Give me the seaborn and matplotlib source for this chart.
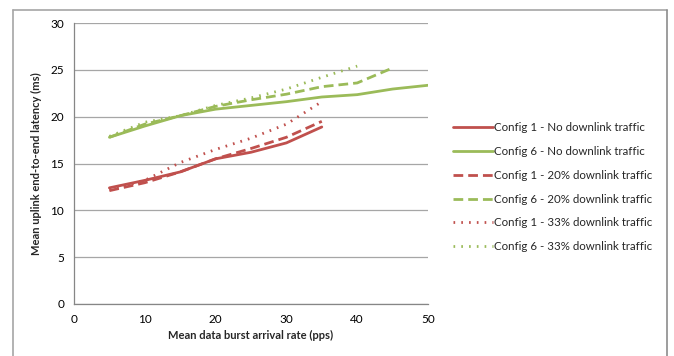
import matplotlib
matplotlib.use("Agg")
import matplotlib.pyplot as plt
from matplotlib.lines import Line2D
import seaborn as sns
import pandas as pd

sns.set_style("white")
plt.rcParams['font.family'] = ['Lato', 'DejaVu Sans']

rate_35 = [5, 10, 15, 20, 25, 30, 35]
rate_40 = [5, 10, 15, 20, 25, 30, 35, 40]
rate_45 = [5, 10, 15, 20, 25, 30, 35, 40, 45]
rate_50 = [5, 10, 15, 20, 25, 30, 35, 40, 45, 50]

c1_none = [12.4, 13.2, 14.1, 15.5, 16.2, 17.2, 18.9]
c6_none = [17.8, 19.0, 20.1, 20.8, 21.2, 21.6, 22.1, 22.35, 22.95, 23.35]
c1_20 = [12.1, 12.95, 14.1, 15.5, 16.6, 17.8, 19.5]
c6_20 = [17.8, 19.2, 20.1, 21.1, 21.8, 22.4, 23.2, 23.6, 25.2]
c1_33 = [12.2, 13.2, 15.1, 16.5, 17.7, 19.2, 21.6]
c6_33 = [17.9, 19.4, 20.1, 21.2, 22.0, 22.95, 24.2, 25.4]

labels = ["Config 1 - No downlink traffic", "Config 6 - No downlink traffic",
          "Config 1 - 20% downlink traffic", "Config 6 - 20% downlink traffic",
          "Config 1 - 33% downlink traffic", "Config 6 - 33% downlink traffic"]

red = "#C0504D"
green = "#9BBB59"

series = [
    (rate_35, c1_none, red, "-"),
    (rate_50, c6_none, green, "-"),
    (rate_35, c1_20, red, (0, (3.5, 1.8))),
    (rate_45, c6_20, green, (0, (3.5, 1.8))),
    (rate_35, c1_33, red, (0, (0.6, 2.2))),
    (rate_40, c6_33, green, (0, (0.6, 2.2))),
]

fig = plt.figure(figsize=(6.74, 3.56), dpi=100)
ax = fig.add_axes([74 / 674, 52 / 356, 354 / 674, 281 / 356])

for (x, y, col, ls), lab in zip(series, labels):
    df = pd.DataFrame({"x": x, "y": y})
    sns.lineplot(data=df, x="x", y="y", ax=ax, color=col, linewidth=2.0,
                 linestyle=ls, label=lab)

ax.set_xlim(0, 50)
ax.set_ylim(0, 30)
ax.set_xticks(range(0, 51, 10))
ax.set_yticks(range(0, 31, 5))
ax.yaxis.grid(True, color="#a6a6a6", linewidth=0.9)
ax.xaxis.grid(False)
for s in ["top", "right"]:
    ax.spines[s].set_visible(False)
for s in ["left", "bottom"]:
    ax.spines[s].set_color("#868686")
    ax.spines[s].set_linewidth(0.9)
ax.tick_params(axis="both", direction="out", length=4, width=0.8, color="#868686",
               labelsize=8.5, colors="#000000", pad=3)
ax.tick_params(axis="both", color="#868686")
ax.set_xlabel("Mean data burst arrival rate (pps)", fontsize=8, fontweight="bold", labelpad=4)
ax.set_ylabel("Mean uplink end-to-end latency (ms)", fontsize=8, fontweight="bold", labelpad=6)

ax.legend(loc="center left", bbox_to_anchor=(1.04, 0.416), frameon=False, fontsize=8.3,
          handlelength=3.5, handletextpad=0.1, labelspacing=1.12)

# outer chart frame (open at the bottom)
fc = "#a6a6a6"
fig.add_artist(Line2D([13 / 674, 667 / 674], [1 - 10 / 356, 1 - 10 / 356], color=fc, lw=1.2))
fig.add_artist(Line2D([13 / 674, 13 / 674], [0, 1 - 10 / 356], color=fc, lw=1.2))
fig.add_artist(Line2D([667 / 674, 667 / 674], [0, 1 - 10 / 356], color="#8c8c8c", lw=1.2))

fig.savefig("out.png", dpi=100)
